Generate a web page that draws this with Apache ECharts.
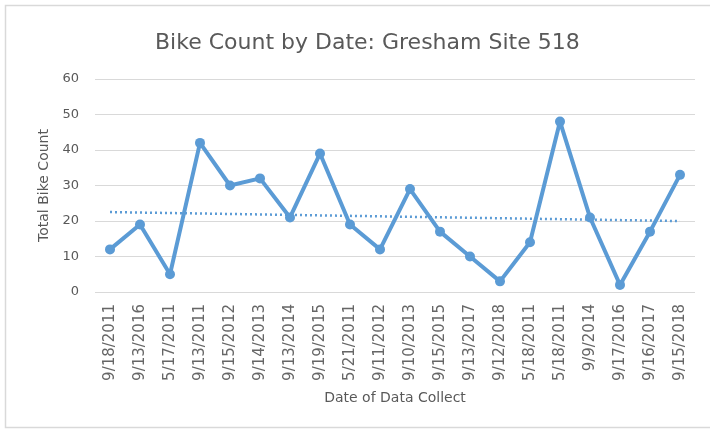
<!DOCTYPE html>
<html>
<head>
<meta charset="utf-8">
<script src="https://cdn.jsdelivr.net/npm/echarts@6/dist/echarts.min.js"></script>
<style>html,body{margin:0;padding:0;background:#fff}#c{width:710px;height:432px}</style>
</head>
<body>
<div id="c"></div>
<script>
const titleText = 'Bike Count by Date: Gresham Site 518';
const categories = ['9/18/2011','9/13/2016','5/17/2011','9/13/2011','9/15/2012','9/14/2013','9/13/2014','9/19/2015','5/21/2011','9/11/2012','9/10/2013','9/15/2015','9/13/2017','9/12/2018','5/18/2011','5/18/2011','9/9/2014','9/17/2016','9/16/2017','9/15/2018'];
const bikeCounts = [12,19,5,42,30,32,21,39,19,12,29,17,10,3,14,48,21,2,17,33];
const yTicks = [0,10,20,30,40,50,60];

// linear trendline (least squares) from the data
const n = bikeCounts.length;
let sx=0, sy=0, sxy=0, sxx=0;
bikeCounts.forEach((y,i)=>{const x=i+1; sx+=x; sy+=y; sxy+=x*y; sxx+=x*x;});
const slope = (n*sxy - sx*sy)/(n*sxx - sx*sx);
const intercept = (sy - slope*sx)/n;
const trend = bikeCounts.map((_,i)=>intercept + slope*(i+1));

const gray = '#595959';
const font = 'DejaVu Sans';
const chart = echarts.init(document.getElementById('c'), null, {renderer:'canvas'});
chart.setOption({
  animation:false,
  backgroundColor:'#fff',
  title:{text:titleText, left:150, top:27, textStyle:{fontFamily:font, fontSize:22, fontWeight:'normal', color:gray}},
  grid:{left:95, right:15, top:79, bottom:140, containLabel:false},
  graphic:[{type:'rect', shape:{x:5.5, y:5.5, width:760, height:422}, style:{fill:null, stroke:'#d9d9d9', lineWidth:1.5}, silent:true}],
  xAxis:{type:'category', data:categories, boundaryGap:true,
    axisLine:{show:false}, axisTick:{show:false},
    axisLabel:{rotate:90, interval:0, margin:12, fontFamily:font, fontSize:15, color:'#666'},
    name:'Date of Data Collect', nameLocation:'middle', nameGap:99,
    nameTextStyle:{fontFamily:font, fontSize:14, color:gray}},
  yAxis:{type:'value', min:yTicks[0], max:yTicks[yTicks.length-1], interval:10,
    axisLine:{show:false}, axisTick:{show:false},
    splitLine:{lineStyle:{color:'#d9d9d9', width:1}},
    axisLabel:{margin:16, fontFamily:font, fontSize:13, color:gray},
    name:'Total Bike Count', nameLocation:'middle', nameGap:44, nameRotate:90,
    nameTextStyle:{fontFamily:font, fontSize:14, color:gray}},
  series:[
    {type:'line', data:bikeCounts, symbol:'circle', symbolSize:10,
      lineStyle:{color:'#5B9BD5', width:4}, itemStyle:{color:'#5B9BD5'}, z:3},
    {type:'line', data:trend, symbol:'none',
      lineStyle:{color:'#5B9BD5', width:2.5, type:[2,3]}, z:2}
  ]
});
</script>
</body>
</html>
